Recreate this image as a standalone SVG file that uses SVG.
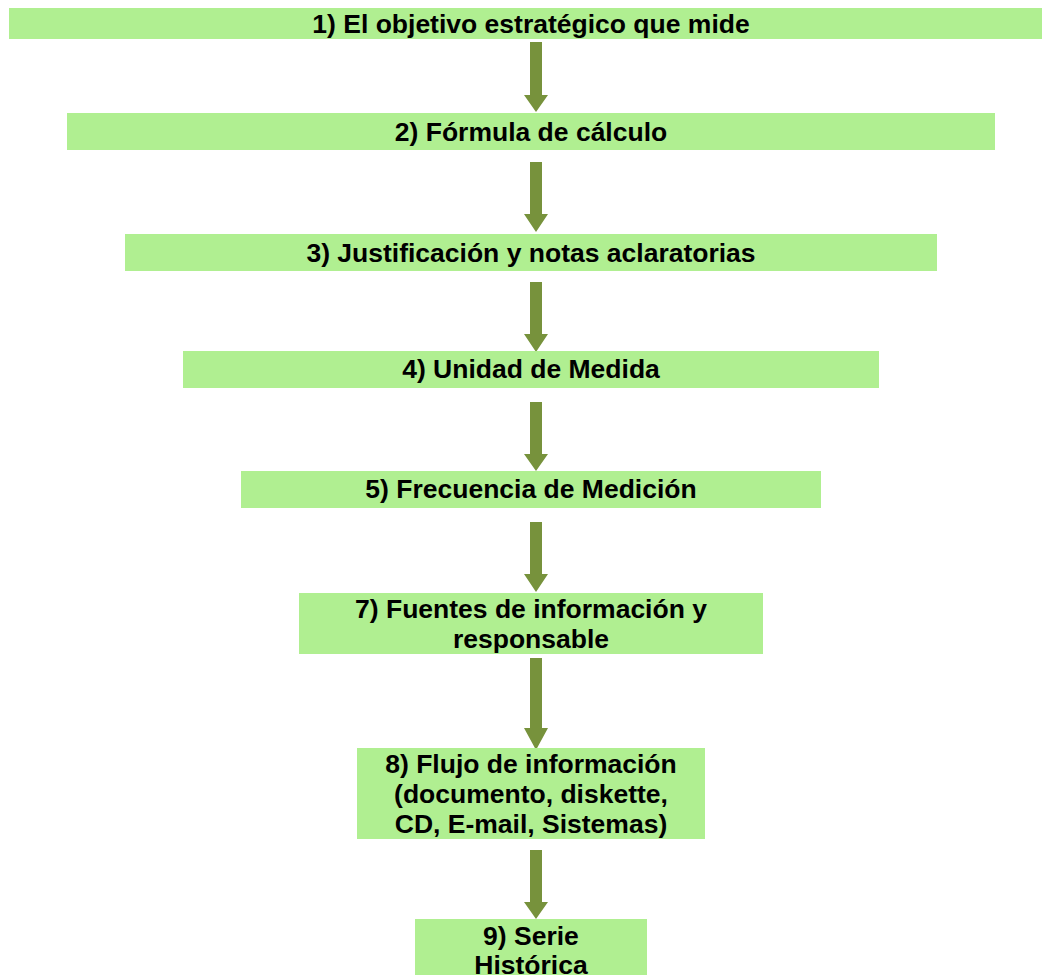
<svg xmlns="http://www.w3.org/2000/svg" width="1042" height="975" viewBox="0 0 1042 975">
<style>
.box{fill:#B0EF91}
.t{font-family:"Liberation Sans",Arial,sans-serif;font-weight:bold;font-size:26.5px;fill:#000;text-anchor:middle}
.arr{fill:#77923C}
</style>
<rect width="1042" height="975" fill="#fff"/>
<g id="connectors">
<path class="arr" d="M530,42 H542 V95 H548 L536,112 L524,95 H530 Z"/>
<path class="arr" d="M530,162 H542 V214 H548 L536,232 L524,214 H530 Z"/>
<path class="arr" d="M530,282 H542 V334 H548 L536,352 L524,334 H530 Z"/>
<path class="arr" d="M530,402 H542 V454 H548 L536,471 L524,454 H530 Z"/>
<path class="arr" d="M530,522 H542 V574 H548 L536,592 L524,574 H530 Z"/>
<path class="arr" d="M530,658 H542 V728 H548 L536,750 L524,728 H530 Z"/>
<path class="arr" d="M530,850 H542 V902 H548 L536,919 L524,902 H530 Z"/>
</g>
<g id="n1"><rect class="box" x="9" y="8" width="1033" height="31"/><text class="t" x="531" y="33">1) El objetivo estratégico que mide</text></g>
<g id="n2"><rect class="box" x="67" y="113" width="928" height="37"/><text class="t" x="531" y="141">2) Fórmula de cálculo</text></g>
<g id="n3"><rect class="box" x="125" y="234" width="812" height="37"/><text class="t" x="531" y="262">3) Justificación y notas aclaratorias</text></g>
<g id="n4"><rect class="box" x="183" y="351" width="696" height="37"/><text class="t" x="531" y="378">4) Unidad de Medida</text></g>
<g id="n5"><rect class="box" x="241" y="471" width="580" height="37"/><text class="t" x="531" y="498">5) Frecuencia de Medición</text></g>
<g id="n7"><rect class="box" x="299" y="593" width="464" height="61"/><text class="t" x="531" y="618">7) Fuentes de información y</text><text class="t" x="531" y="648">responsable</text></g>
<g id="n8"><rect class="box" x="357" y="748" width="348" height="91"/><text class="t" x="531" y="773">8) Flujo de información</text><text class="t" x="531" y="803">(documento, diskette,</text><text class="t" x="531" y="833">CD, E-mail, Sistemas)</text></g>
<g id="n9"><rect class="box" x="415" y="919" width="232" height="60"/><text class="t" x="531" y="945">9) Serie</text><text class="t" x="531" y="974">Histórica</text></g>
</svg>
